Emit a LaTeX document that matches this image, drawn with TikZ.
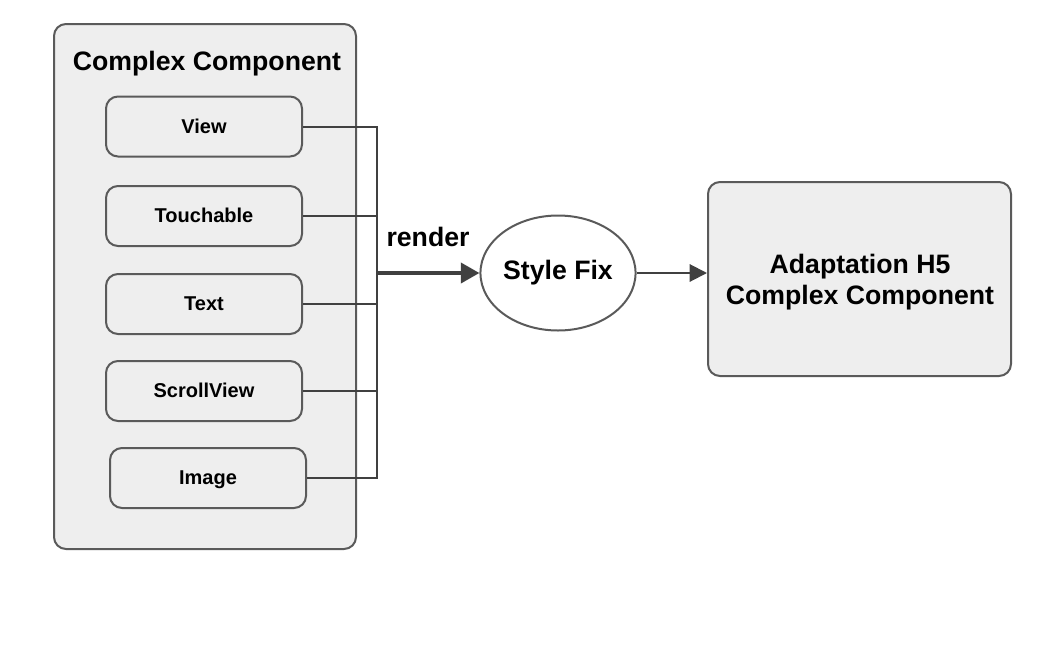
\documentclass[tikz,border=0pt]{standalone}
\usepackage{fontspec}
\setmainfont{Liberation Sans}
\usetikzlibrary{arrows.meta}
\usetikzlibrary{shapes.geometric}

\definecolor{boxfill}{HTML}{EEEEEE}
\definecolor{boxline}{HTML}{5A5A5A}
\definecolor{wirecol}{HTML}{404040}

\begin{document}
\begin{tikzpicture}[x=0.75pt, y=-0.75pt,
		panel/.style={draw=boxline, fill=boxfill, line width=1.5pt, rounded corners=9pt, inner sep=0pt},
		part/.style={panel, minimum width=147pt, minimum height=45pt, text depth=1pt, font=\bfseries\fontsize{15}{18}\selectfont},
		wire/.style={draw=wirecol, line width=1.5pt},
		flow/.style={wire, -{Triangle[length=13pt, width=13pt]}}]
			\useasboundingbox (0, 0) rectangle (1052, 650);

			\node[panel, minimum width=226.5pt, minimum height=393.75pt] (outer) at (205, 286.5){};
			\node[font=\bfseries\fontsize{20}{24}\selectfont] (title) at (207, 64){Complex Component};

			\node[part] (view) at (204, 126.5){View};
			\node[part] (touch) at (204, 216){Touchable};
			\node[part] (text) at (204, 304){Text};
			\node[part] (scroll) at (204, 391){ScrollView};
			\node[part] (image) at (208, 478){Image};

			\coordinate (join) at (377, 273);
			\draw[wire] (view.east) -| (join);
			\draw[wire] (touch.east) -| (join);
			\draw[wire] (text.east) -| (join);
			\draw[wire] (scroll.east) -| (join);
			\draw[wire] (image.east) -| (join);

			\node[draw=boxline, fill=white, line width=1.5pt, ellipse, inner sep=0pt,
				minimum width=110pt, minimum height=86.25pt,
				font=\bfseries\fontsize{20}{24}\selectfont] (fix) at (558, 273){Style Fix};

			\draw[flow, line width=3pt, -{Triangle[length=14pt, width=15pt]}] (join) -- (fix.west);
			\node[font=\bfseries\fontsize{20}{24}\selectfont] (render) at (428, 237){render};

			\node[panel, minimum width=227.25pt, minimum height=145.5pt, align=center,
				font=\bfseries\fontsize{20}{23}\selectfont] (h5) at (859.5, 279){};
			\node[align=center, font=\bfseries\fontsize{20}{23}\selectfont] (h5text) at (860, 282){Adaptation H5\\Complex Component};

			\draw[flow] (fix.east) -- (fix.east -| h5.west);
		\end{tikzpicture}
\end{document}
